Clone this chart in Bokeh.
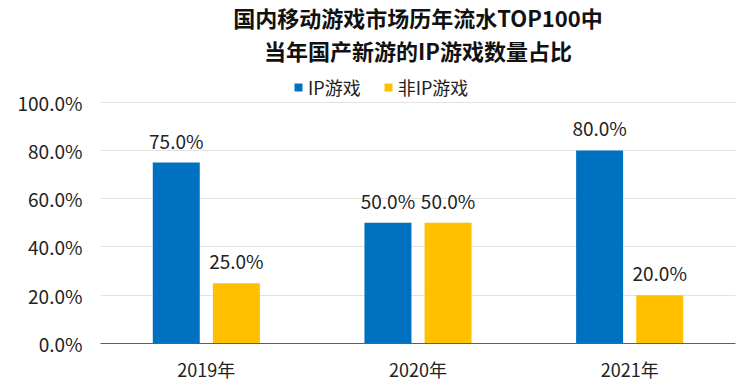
from bokeh.plotting import figure
from bokeh.models import (FactorRange, Range1d, ColumnDataSource, LabelSet, Legend, LegendItem,
                          Title, FixedTicker, PrintfTickFormatter)
from bokeh.core.properties import value
from bokeh.transform import dodge
from bokeh.embed import file_html
from bokeh.resources import INLINE

years = ["2019年", "2020年", "2021年"]
ip_values = [75.0, 50.0, 80.0]
non_ip_values = [25.0, 50.0, 20.0]
y_ticks = [0, 20, 40, 60, 80, 100]
title_line1 = "国内移动游戏市场历年流水TOP100中"
title_line2 = "当年国产新游的IP游戏数量占比"
series_names = ["IP游戏", "非IP游戏"]

FONT = "Noto Sans CJK SC"
BLUE = "#0070C0"
YELLOW = "#FFC000"
TXT = "#222222"

src = ColumnDataSource(dict(
    year=years,
    ip=ip_values,
    nonip=non_ip_values,
    ip_lab=["%.1f%%" % v for v in ip_values],
    nonip_lab=["%.1f%%" % v for v in non_ip_values],
))

p = figure(width=750, height=392, x_range=FactorRange(*years, range_padding=0),
           y_range=Range1d(0, 114.8), output_backend="svg", toolbar_location=None,
           min_border_left=100, min_border_right=15, min_border_bottom=49, min_border_top=0)
p.outline_line_color = None
p.background_fill_color = "white"

r1 = p.vbar(x=dodge("year", -0.142, range=p.x_range), top="ip", width=0.222,
            source=src, color=BLUE, line_color=None)
r2 = p.vbar(x=dodge("year", 0.142, range=p.x_range), top="nonip", width=0.222,
            source=src, color=YELLOW, line_color=None)

for col, lab, off in [("ip", "ip_lab", -0.142), ("nonip", "nonip_lab", 0.142)]:
    p.add_layout(LabelSet(x=dodge("year", off, range=p.x_range), y=col, text=lab, source=src,
                          y_offset=9, text_align="center", text_baseline="bottom",
                          text_font=value(FONT), text_font_size="19px", text_color=TXT))

# axes
p.yaxis.ticker = FixedTicker(ticks=y_ticks)
p.yaxis.formatter = PrintfTickFormatter(format="%.1f%%")
p.yaxis.axis_line_color = None
p.yaxis.major_tick_line_color = None
p.yaxis.minor_tick_line_color = None
p.yaxis.major_tick_out = 0
p.yaxis.major_label_standoff = 18
p.yaxis.major_label_text_font = FONT
p.yaxis.major_label_text_font_size = "19px"
p.yaxis.major_label_text_color = TXT

p.xaxis.axis_line_color = "#3E6B76"
p.xaxis.axis_line_width = 1
p.xaxis.major_tick_line_color = None
p.xaxis.minor_tick_line_color = None
p.xaxis.major_tick_out = 0
p.xaxis.major_label_standoff = 12
p.xaxis.major_label_text_font = FONT
p.xaxis.major_label_text_font_size = "18px"
p.xaxis.major_label_text_color = TXT

p.xgrid.grid_line_color = None
p.ygrid.grid_line_color = "#E3E3E3"
p.ygrid.grid_line_width = 1

legend = Legend(items=[LegendItem(label=series_names[0], renderers=[r1]),
                       LegendItem(label=series_names[1], renderers=[r2])],
                orientation="horizontal", location=(193, 243),
                glyph_width=10, glyph_height=10, label_standoff=5, spacing=22,
                label_text_font=FONT, label_text_font_size="18px", label_text_color=TXT,
                border_line_color=None, background_fill_alpha=0,
                padding=0, margin=0)
p.add_layout(legend, "center")

t2 = Title(text=title_line2, align="center", offset=-34, text_font=FONT, text_font_size="22px",
           text_font_style="bold", text_color="#111111", standoff=2)
t1 = Title(text=title_line1, align="center", offset=-34, text_font=FONT, text_font_size="22px",
           text_font_style="bold", text_color="#111111", standoff=-4)
p.add_layout(t2, "above")
p.add_layout(t1, "above")

open("out.html", "w").write(file_html(p, INLINE))
